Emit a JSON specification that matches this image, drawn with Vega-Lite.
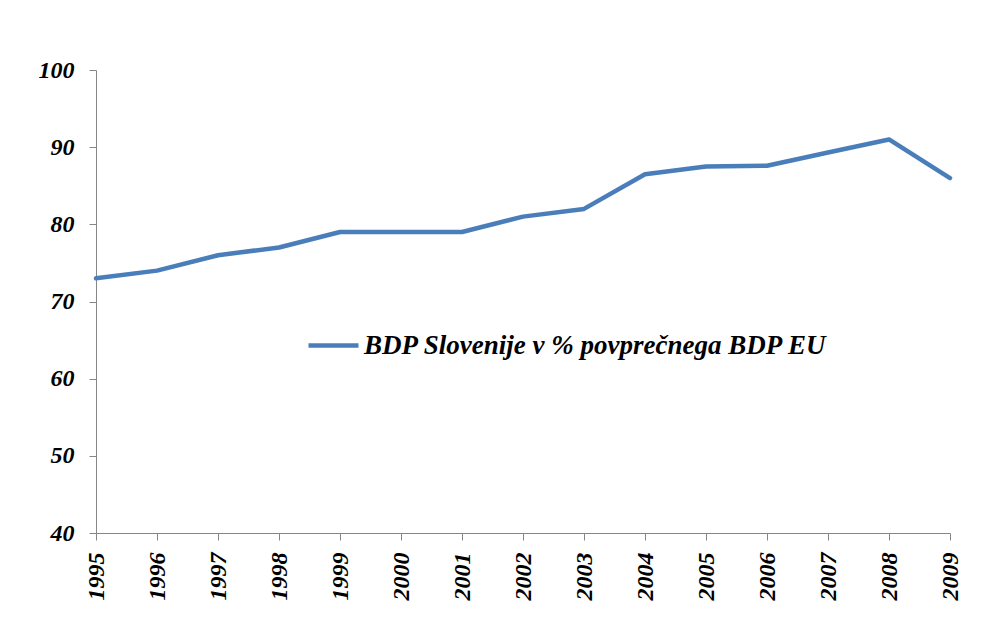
{
  "$schema": "https://vega.github.io/schema/vega-lite/v6.json",
  "width": 854,
  "height": 463,
  "autosize": {"type": "none"},
  "padding": {"left": 96, "top": 70, "right": 38, "bottom": 87},
  "background": "white",
  "config": {"view": {"stroke": null}},
  "data": {
    "values": [
      {"year": 1995, "value": 73},
      {"year": 1996, "value": 74},
      {"year": 1997, "value": 76},
      {"year": 1998, "value": 77},
      {"year": 1999, "value": 79},
      {"year": 2000, "value": 79},
      {"year": 2001, "value": 79},
      {"year": 2002, "value": 81},
      {"year": 2003, "value": 82},
      {"year": 2004, "value": 86.5},
      {"year": 2005, "value": 87.5},
      {"year": 2006, "value": 87.6},
      {"year": 2007, "value": 89.3},
      {"year": 2008, "value": 91},
      {"year": 2009, "value": 86}
    ]
  },
  "mark": {"type": "line", "strokeWidth": 4.5, "strokeCap": "round", "strokeJoin": "round"},
  "encoding": {
    "x": {
      "field": "year",
      "type": "quantitative",
      "scale": {"domain": [1995, 2009], "nice": false, "zero": false},
      "axis": {
        "title": null,
        "values": [1995, 1996, 1997, 1998, 1999, 2000, 2001, 2002, 2003, 2004, 2005, 2006, 2007, 2008, 2009],
        "format": "d",
        "grid": false,
        "labelAngle": -90,
        "labelAlign": "right",
        "labelBaseline": "middle",
        "labelPadding": 12,
        "labelFont": "Liberation Serif, Times New Roman, serif",
        "labelFontStyle": "italic",
        "labelFontWeight": "bold",
        "labelFontSize": 24,
        "labelColor": "black",
        "labelOverlap": false,
        "labelFlush": false,
        "domainColor": "#868686",
        "tickColor": "#868686",
        "tickSize": 7
      }
    },
    "y": {
      "field": "value",
      "type": "quantitative",
      "scale": {"domain": [40, 100], "nice": false, "zero": false},
      "axis": {
        "title": null,
        "values": [40, 50, 60, 70, 80, 90, 100],
        "grid": false,
        "labelPadding": 15,
        "labelFont": "Liberation Serif, Times New Roman, serif",
        "labelFontStyle": "italic",
        "labelFontWeight": "bold",
        "labelFontSize": 24,
        "labelColor": "black",
        "labelFlush": false,
        "domainColor": "#868686",
        "tickColor": "#868686",
        "tickSize": 7
      }
    },
    "color": {
      "datum": "BDP Slovenije v % povprečnega BDP EU",
      "scale": {"range": ["#4A7EBB"]},
      "legend": {
        "title": null,
        "orient": "none",
        "legendX": 210,
        "legendY": 248,
        "symbolType": "stroke",
        "symbolSize": 2500,
        "symbolStrokeWidth": 4.5,
        "labelOffset": 3,
        "labelFont": "Liberation Serif, Times New Roman, serif",
        "labelFontStyle": "italic",
        "labelFontWeight": "bold",
        "labelFontSize": 27,
        "labelColor": "black",
        "labelLimit": 700
      }
    }
  }
}
